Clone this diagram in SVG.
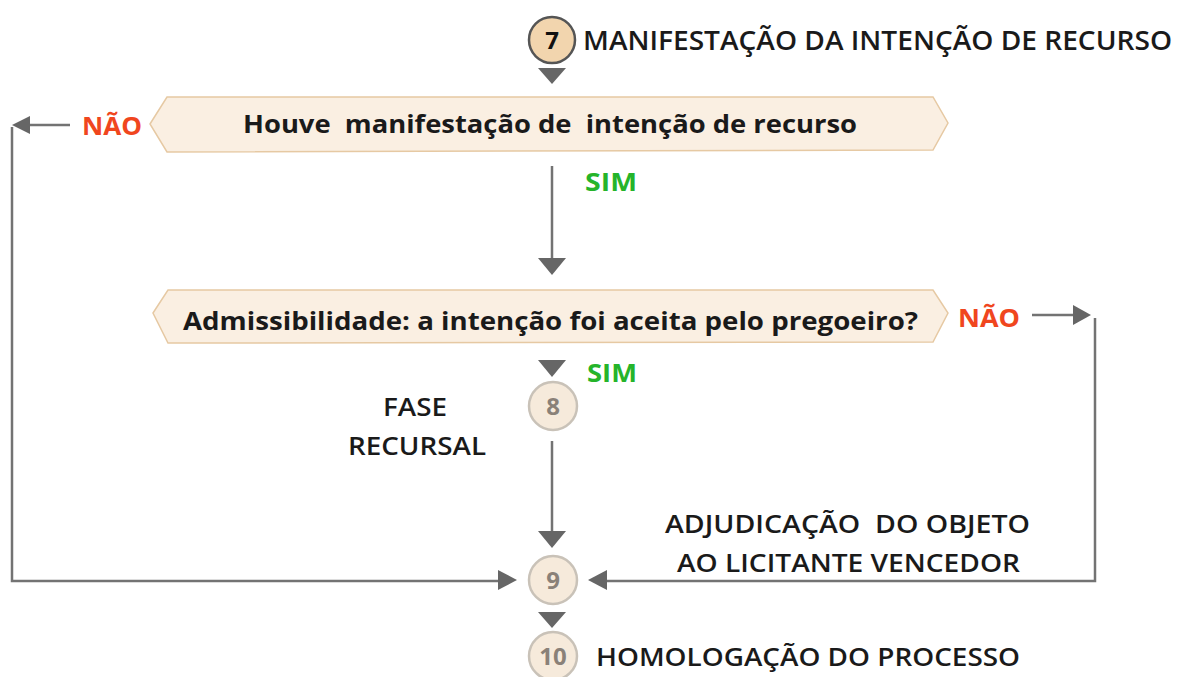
<svg xmlns="http://www.w3.org/2000/svg" width="1179" height="677" viewBox="0 0 1179 677">
<style>
.lbl{font-family:"Open Sans","Liberation Sans",sans-serif;font-weight:600;font-size:27px;fill:#1a1a1a}
.hx{fill:#faefe2;stroke:#e6c9a3;stroke-width:1.5}
.ht{font-family:"Open Sans","Liberation Sans",sans-serif;font-weight:700;font-size:25px;fill:#1a1a1a}
.nao{font-family:"Open Sans","Liberation Sans",sans-serif;font-weight:700;font-size:25px;fill:#f0461e}
.sim{font-family:"Open Sans","Liberation Sans",sans-serif;font-weight:700;font-size:25px;fill:#25b42a}
.c7{fill:#f2d5ae;stroke:#555;stroke-width:2.5}
.cl{fill:#f6eadb;stroke:#c9c2b8;stroke-width:2.5}
.cn{font-family:"Open Sans","Liberation Sans",sans-serif;font-weight:700;font-size:24px;text-anchor:middle}
.ln{fill:none;stroke:#737373;stroke-width:2.5}
.ah{fill:#666}
</style>
<g id="connectors">
<polygon class="ah" points="538,68 566,68 552,84"/>
<path class="ln" d="M70,125 H28"/>
<polygon class="ah" points="12,125 30,116 30,134"/>
<path class="ln" d="M12,127 V581 H502"/>
<polygon class="ah" points="517,580 498,570 498,590"/>
<path class="ln" d="M552,166 V260"/>
<polygon class="ah" points="538,258 566,258 552,275"/>
<path class="ln" d="M1032,315 H1075"/>
<polygon class="ah" points="1091,315 1073,305 1073,325"/>
<path class="ln" d="M1095,318 V581 H604"/>
<polygon class="ah" points="588,580 607,570 607,590"/>
<polygon class="ah" points="538,360 566,360 552,377"/>
<path class="ln" d="M552,441 V532"/>
<polygon class="ah" points="538,531 566,531 552,548"/>
<polygon class="ah" points="538,612 566,612 552,628"/>
</g>
<g id="n7">
<circle class="c7" cx="552" cy="40" r="23"/>
<text class="cn" x="552" y="49" fill="#111">7</text>
<text class="lbl" x="583" y="50" textLength="589" lengthAdjust="spacingAndGlyphs">MANIFESTAÇÃO DA INTENÇÃO DE RECURSO</text>
</g>
<g id="d1">
<polygon class="hx" points="150,124 167,97 933,97 948,123 933,150 167,152"/>
<text class="ht" x="243" y="133" textLength="614" lengthAdjust="spacingAndGlyphs" xml:space="preserve">Houve  manifestação de  intenção de recurso</text>
<text class="nao" x="82" y="135" textLength="60" lengthAdjust="spacingAndGlyphs">NÃO</text>
<text class="sim" x="585" y="191" textLength="52" lengthAdjust="spacingAndGlyphs">SIM</text>
</g>
<g id="d2">
<polygon class="hx" points="153,313 168,290 933,290 948,313 933,342 168,343"/>
<text class="ht" x="183" y="330" textLength="735" lengthAdjust="spacingAndGlyphs">Admissibilidade: a intenção foi aceita pelo pregoeiro?</text>
<text class="nao" x="958" y="327" textLength="62" lengthAdjust="spacingAndGlyphs">NÃO</text>
<text class="sim" x="587" y="382" textLength="50" lengthAdjust="spacingAndGlyphs">SIM</text>
</g>
<g id="n8">
<circle class="cl" cx="553" cy="406" r="24"/>
<text class="cn" x="553" y="415" fill="#8a8178">8</text>
<text class="lbl" x="415" y="416" text-anchor="middle" style="font-size:26px" textLength="64" lengthAdjust="spacingAndGlyphs">FASE</text>
<text class="lbl" x="417" y="455" text-anchor="middle" style="font-size:26px" textLength="138" lengthAdjust="spacingAndGlyphs">RECURSAL</text>
</g>
<g id="n9">
<circle class="cl" cx="553" cy="580" r="24"/>
<text class="cn" x="553" y="589" fill="#8a8178">9</text>
<text class="lbl" x="665" y="533" textLength="365" lengthAdjust="spacingAndGlyphs" xml:space="preserve" style="font-size:26px">ADJUDICAÇÃO  DO OBJETO</text>
<text class="lbl" x="677" y="572" textLength="343" lengthAdjust="spacingAndGlyphs" style="font-size:26px">AO LICITANTE VENCEDOR</text>
</g>
<g id="n10">
<circle class="cl" cx="553" cy="656" r="24"/>
<text class="cn" x="553" y="665" fill="#8a8178">10</text>
<text class="lbl" x="596" y="666" textLength="424" lengthAdjust="spacingAndGlyphs" style="font-size:26px">HOMOLOGAÇÃO DO PROCESSO</text>
</g>
</svg>
